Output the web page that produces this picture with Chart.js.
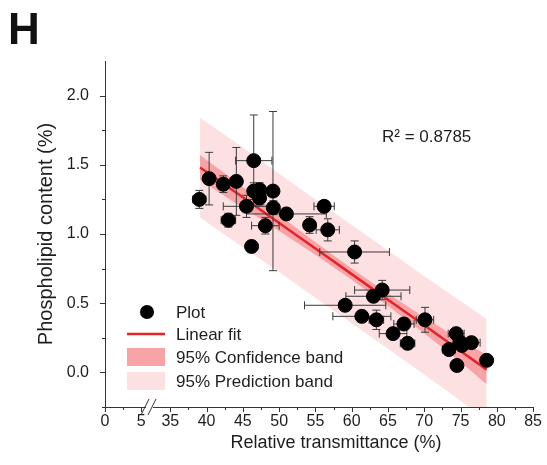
<!DOCTYPE html>
<html><head><meta charset="utf-8">
<script src="https://cdn.jsdelivr.net/npm/chart.js@4/dist/chart.umd.min.js"></script>
<style>html,body{margin:0;padding:0;background:#fff}#wrap{width:547px;height:465px;position:relative}</style>
</head><body><div id="wrap"><canvas id="c" width="547" height="465"></canvas></div>
<script>
const panelLabel = 'H';
const xTitle = 'Relative transmittance (%)';
const yTitle = 'Phospholipid content (%)';
const r2Text = 'R\u00B2 = 0.8785';
const legendLabels = ['Plot', 'Linear fit', '95% Confidence band', '95% Prediction band'];

const xTickValues = [0, 5, 35, 40, 45, 50, 55, 60, 65, 70, 75, 80, 85];
const xTickLabels = ['0', '5', '35', '40', '45', '50', '55', '60', '65', '70', '75', '80', '85'];
const xMinorValues = [2.5, 37.5, 42.5, 47.5, 52.5, 57.5, 62.5, 67.5, 72.5, 77.5, 82.5];
const yTickValues = [0, 0.5, 1.0, 1.5, 2.0];
const yTickLabels = ['0.0', '0.5', '1.0', '1.5', '2.0'];
const yMinorValues = [-0.25, 0.25, 0.75, 1.25, 1.75];

const pointX = [39.0, 40.35, 42.3, 44.1, 43.0, 46.5, 46.5, 47.3, 47.3, 49.15, 45.5, 49.2, 51.0, 48.1, 46.2, 56.2, 54.2, 56.7, 60.4, 64.2, 63.0, 59.1, 61.4, 63.4, 67.2, 65.7, 67.7, 70.1, 74.4, 73.4, 74.9, 75.2, 76.5, 74.5, 78.6];
const pointY = [1.25, 1.40, 1.36, 1.38, 1.10, 1.53, 1.31, 1.32, 1.26, 1.31, 1.20, 1.19, 1.145, 1.06, 0.91, 1.20, 1.065, 1.03, 0.87, 0.595, 0.55, 0.485, 0.405, 0.38, 0.35, 0.28, 0.21, 0.38, 0.28, 0.165, 0.22, 0.195, 0.215, 0.05, 0.087];
const errX = [0.9, 0.5, 0.6, 0.5, 1.0, 2.5, 0.6, 0.8, 0.6, 0.6, 3.2, 0.6, 5.5, 1.9, 0.6, 1.4, 0.5, 1.6, 4.8, 3.8, 3.8, 5.6, 4.0, 1.0, 1.4, 1.9, 1.0, 1.2, 1.1, 0.9, 0.6, 0.6, 1.2, 0.4, 0.4];
const errY = [0.065, 0.19, 0.06, 0.245, 0.05, 0.33, 0.06, 0.05, 0.05, 0.575, 0.08, 0.05, 0.04, 0.06, 0.04, 0.04, 0.06, 0.08, 0.08, 0.07, 0.04, 0.04, 0.04, 0.07, 0.04, 0.04, 0.04, 0.09, 0.04, 0.04, 0.04, 0.04, 0.04, 0.03, 0.03];

const bandX = [39.1, 45, 50, 55, 60, 65, 70, 75, 78.6];
const fitY = [1.48, 1.265, 1.08, 0.895, 0.71, 0.525, 0.34, 0.155, 0.02];
const confUpper = [1.57, 1.34, 1.138, 0.94, 0.75, 0.57, 0.398, 0.235, 0.125];
const confLower = [1.39, 1.19, 1.022, 0.85, 0.67, 0.48, 0.282, 0.075, -0.085];
const predUpper = [1.84, 1.625, 1.435, 1.25, 1.065, 0.88, 0.695, 0.515, 0.385];
const predLower = [1.12, 0.905, 0.725, 0.54, 0.355, 0.17, -0.015, -0.205, -0.345];

// broken x axis: 5 .. 35 collapsed to a small gap
const BREAK_LO = 5, BREAK_HI = 35, BREAK_GAP = 4;
function tx(v) { return v <= BREAK_LO ? v : v - (BREAK_HI - BREAK_LO) + BREAK_GAP; }

const C_POINT = '#000000';
const C_FIT = '#e3242b';
const C_CONF = '#f8a3a6';
const C_PRED = '#fde0e1';
const C_AXIS = '#333333';
const C_TEXT = '#1e1e1e';
const FONT = "'Liberation Sans', Arial, sans-serif";

const xy = (xs, ys) => xs.map((x, i) => ({x: tx(x), y: ys[i]}));

const extras = {
  id: 'extras',
  beforeDatasetDraw(chart, args) {
    if (args.index !== 0) return;
    const xs = chart.scales.x, ys = chart.scales.y, ctx = chart.ctx;
    ctx.save();
    ctx.strokeStyle = '#3a3a3a';
    ctx.lineWidth = 1;
    const cap = 4;
    pointX.forEach((x, i) => {
      const px = xs.getPixelForValue(tx(x)), py = ys.getPixelForValue(pointY[i]);
      const l = xs.getPixelForValue(tx(x - errX[i])), r = xs.getPixelForValue(tx(x + errX[i]));
      const t = ys.getPixelForValue(pointY[i] + errY[i]), b = ys.getPixelForValue(pointY[i] - errY[i]);
      ctx.beginPath();
      ctx.moveTo(l, py); ctx.lineTo(r, py);
      ctx.moveTo(l, py - cap); ctx.lineTo(l, py + cap);
      ctx.moveTo(r, py - cap); ctx.lineTo(r, py + cap);
      ctx.moveTo(px, t); ctx.lineTo(px, b);
      ctx.moveTo(px - cap, t); ctx.lineTo(px + cap, t);
      ctx.moveTo(px - cap, b); ctx.lineTo(px + cap, b);
      ctx.stroke();
    });
    ctx.restore();
  },
  afterDraw(chart) {
    const xs = chart.scales.x, ys = chart.scales.y, ctx = chart.ctx;
    const area = chart.chartArea;
    ctx.save();
    ctx.strokeStyle = C_AXIS;
    ctx.lineWidth = 1;
    // tick marks
    ctx.beginPath();
    xTickValues.forEach(v => { const p = Math.round(xs.getPixelForValue(tx(v))) + 0.5; ctx.moveTo(p, area.bottom); ctx.lineTo(p, area.bottom + 5); });
    xMinorValues.forEach(v => { const p = Math.round(xs.getPixelForValue(tx(v))) + 0.5; ctx.moveTo(p, area.bottom); ctx.lineTo(p, area.bottom + 3); });
    yTickValues.forEach(v => { const p = Math.round(ys.getPixelForValue(v)) + 0.5; ctx.moveTo(area.left, p); ctx.lineTo(area.left - 5, p); });
    yMinorValues.forEach(v => { const p = Math.round(ys.getPixelForValue(v)) + 0.5; ctx.moveTo(area.left, p); ctx.lineTo(area.left - 3, p); });
    ctx.stroke();
    // axis break
    const bx = xs.getPixelForValue(tx(BREAK_LO) + BREAK_GAP * 0.3);
    const by = area.bottom;
    ctx.fillStyle = '#ffffff';
    ctx.fillRect(bx - 4, by - 2, 7, 4);
    ctx.beginPath();
    ctx.moveTo(bx - 9, by + 8); ctx.lineTo(bx - 1, by - 8);
    ctx.moveTo(bx - 2, by + 8); ctx.lineTo(bx + 6, by - 8);
    ctx.stroke();

    // legend
    const lx = 127, lw = 38, tX = 176;
    const rows = [312, 334, 357, 381];
    ctx.font = '17px ' + FONT;
    ctx.textBaseline = 'middle';
    ctx.textAlign = 'left';
    ctx.fillStyle = C_POINT;
    ctx.beginPath(); ctx.arc(lx + lw / 2 + 1, rows[0], 7, 0, Math.PI * 2); ctx.fill();
    ctx.strokeStyle = C_FIT; ctx.lineWidth = 2.5;
    ctx.beginPath(); ctx.moveTo(lx, rows[1]); ctx.lineTo(lx + lw, rows[1]); ctx.stroke();
    ctx.fillStyle = C_CONF; ctx.fillRect(lx, rows[2] - 9, lw, 18);
    ctx.fillStyle = C_PRED; ctx.fillRect(lx, rows[3] - 9, lw, 18);
    ctx.fillStyle = C_TEXT;
    legendLabels.forEach((s, i) => ctx.fillText(s, tX, rows[i] + 1));

    // R^2
    ctx.font = '17px ' + FONT;
    ctx.textBaseline = 'alphabetic';
    ctx.fillText(r2Text, 382, 142);

    // panel label
    ctx.font = 'bold 44px ' + FONT;
    ctx.fillStyle = '#111';
    ctx.fillText(panelLabel, 8, 44);

    // axis titles
    ctx.fillStyle = C_TEXT;
    ctx.textAlign = 'center';
    ctx.textBaseline = 'middle';
    ctx.font = '18px ' + FONT;
    ctx.fillText(xTitle, 336, 443);
    ctx.save();
    ctx.font = '20px ' + FONT;
    ctx.translate(46, (area.top + area.bottom) / 2);
    ctx.rotate(-Math.PI / 2);
    ctx.fillText(yTitle, 0, 0);
    ctx.restore();
    ctx.restore();
  }
};

new Chart(document.getElementById('c'), {
  type: 'scatter',
  data: {
    datasets: [
      {label: legendLabels[0], data: xy(pointX, pointY), backgroundColor: C_POINT, borderColor: C_POINT, pointRadius: 7, pointHoverRadius: 7, order: 0},
      {label: legendLabels[1], type: 'line', data: xy(bandX, fitY), borderColor: C_FIT, borderWidth: 2.5, pointRadius: 0, fill: false, order: 1},
      {label: legendLabels[2], type: 'line', data: xy(bandX, confUpper), borderWidth: 0, borderColor: 'rgba(0,0,0,0)', backgroundColor: C_CONF, pointRadius: 0, fill: '+1', order: 2},
      {label: legendLabels[2] + ' lower', type: 'line', data: xy(bandX, confLower), borderWidth: 0, borderColor: 'rgba(0,0,0,0)', pointRadius: 0, fill: false, order: 2},
      {label: legendLabels[3], type: 'line', data: xy(bandX, predUpper), borderWidth: 0, borderColor: 'rgba(0,0,0,0)', backgroundColor: C_PRED, pointRadius: 0, fill: '+1', order: 3},
      {label: legendLabels[3] + ' lower', type: 'line', data: xy(bandX, predLower), borderWidth: 0, borderColor: 'rgba(0,0,0,0)', pointRadius: 0, fill: false, order: 3}
    ]
  },
  options: {
    responsive: false,
    animation: false,
    devicePixelRatio: 1,
    layout: {padding: {left: 0, right: 10, top: 61, bottom: 0}},
    plugins: {legend: {display: false}, tooltip: {enabled: false}, title: {display: false}},
    scales: {
      x: {
        type: 'linear', min: 0, max: tx(85),
        afterBuildTicks: s => { s.ticks = xTickValues.map(v => ({value: tx(v)})); },
        afterFit: s => { s.height = 58; },
        ticks: {
          callback: (v, i) => xTickLabels[i],
          font: {family: FONT, size: 16}, color: C_TEXT, padding: 5, maxRotation: 0, autoSkip: false
        },
        grid: {display: false, drawTicks: false},
        border: {display: true, color: C_AXIS, width: 1}
      },
      y: {
        type: 'linear', min: -0.25, max: 2.25,
        afterBuildTicks: s => { s.ticks = yTickValues.map(v => ({value: v})); },
        afterFit: s => { s.width = 105; },
        ticks: {
          callback: (v, i) => yTickLabels[i],
          font: {family: FONT, size: 16}, color: C_TEXT, padding: 16
        },
        grid: {display: false, drawTicks: false},
        border: {display: true, color: C_AXIS, width: 1}
      }
    }
  },
  plugins: [extras]
});
</script>
</body></html>
